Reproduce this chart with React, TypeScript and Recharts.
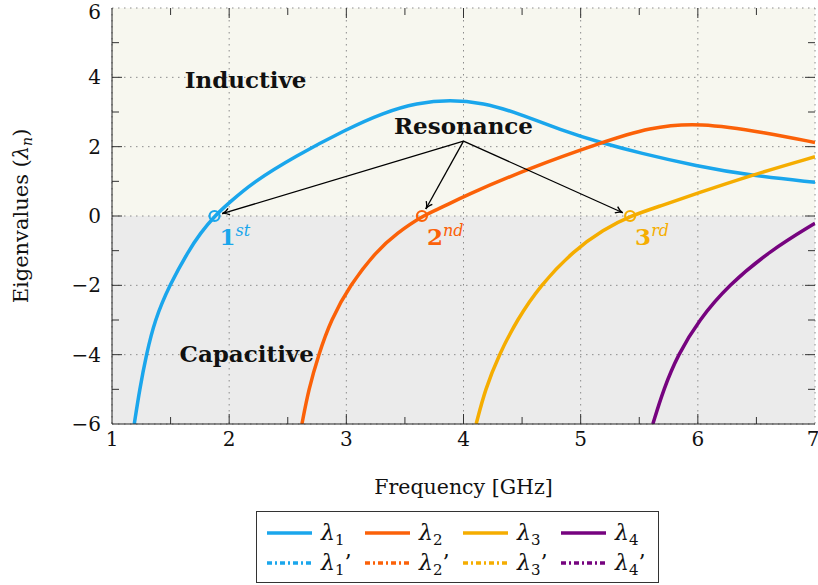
import React from "react";
import {
  CartesianGrid,
  Line,
  LineChart,
  ReferenceArea,
  ReferenceDot,
  ReferenceLine,
  XAxis,
  YAxis,
} from "recharts";

const FONT = "'DejaVu Serif', serif";

const BLUE = "#1aa6ec";
const ORANGE = "#fb6108";
const YELLOW = "#f5ad00";
const PURPLE = "#76037f";

// eigenvalue curves, frequency in GHz
const freq1 = [1.19, 1.236, 1.293, 1.365, 1.49, 1.654, 1.753, 1.875, 2.0, 2.197, 2.567, 3.0, 3.317, 3.6, 3.886, 4.17, 4.456, 4.88, 5.17, 5.5, 5.99, 6.45, 7.0];
const lambda1 = [-6, -5, -4, -3, -2, -1, -0.5, 0, 0.38, 0.96, 1.73, 2.5, 2.98, 3.26, 3.36, 3.26, 2.98, 2.42, 2.12, 1.82, 1.44, 1.17, 0.97];

const freq2 = [2.621, 2.678, 2.763, 2.868, 3.03, 3.26, 3.43, 3.645, 3.82, 4.0, 4.57, 5.17, 5.59, 6.01, 6.59, 7.0];
const lambda2 = [-6, -5, -4, -3, -2, -1, -0.5, 0, 0.25, 0.57, 1.39, 2.11, 2.56, 2.7, 2.4, 2.12];

const freq3 = [4.108, 4.185, 4.303, 4.456, 4.655, 4.94, 5.195, 5.422, 5.7, 5.99, 6.45, 7.0];
const lambda3 = [-6, -5, -4, -3, -2, -1, -0.39, 0, 0.31, 0.65, 1.17, 1.71];

const freq4 = [5.616, 5.707, 5.83, 6.01, 6.26, 6.617, 7.0];
const lambda4 = [-6, -5, -4, -3, -2, -1, -0.21];

const xTicks = [1, 2, 3, 4, 5, 6, 7];
const yTicks = [-6, -4, -2, 0, 2, 4, 6];
const xMinorTicks = [1.5, 2.5, 3.5, 4.5, 5.5, 6.5];
const yMinorTicks = [-5, -3, -1, 1, 3, 5];

// zero crossings
const resonanceFreqs = [1.875, 3.645, 5.422];
const resonanceNames = ["1", "2", "3"];
const resonanceSups = ["st", "nd", "rd"];
const resonanceColors = [BLUE, ORANGE, YELLOW];

const regionNames = ["Inductive", "Capacitive"];
const regionFreqs = [2.14, 2.15];
const regionVals = [3.7, -4.22];

const arrowOrigin = { f: 4.0, v: 2.16 };

const zip = (f: number[], v: number[]) => f.map((x, i) => ({ f: x, v: v[i] }));

const series = [
  { key: "l1", sub: "1", color: BLUE, data: zip(freq1, lambda1) },
  { key: "l2", sub: "2", color: ORANGE, data: zip(freq2, lambda2) },
  { key: "l3", sub: "3", color: YELLOW, data: zip(freq3, lambda3) },
  { key: "l4", sub: "4", color: PURPLE, data: zip(freq4, lambda4) },
];

const MAJOR = 10;
const MINOR = 7;

// inward ticks at both ends of a full-span reference line
const vTick = (len: number) => (p: any) => {
  const top = Math.min(p.y1, p.y2);
  const bot = Math.max(p.y1, p.y2);
  return (
    <g>
      <line x1={p.x1} x2={p.x1} y1={top} y2={top + len} stroke="#333" strokeWidth={1} />
      <line x1={p.x1} x2={p.x1} y1={bot} y2={bot - len} stroke="#333" strokeWidth={1} />
    </g>
  );
};

const hTick = (len: number) => (p: any) => {
  const left = Math.min(p.x1, p.x2);
  const right = Math.max(p.x1, p.x2);
  return (
    <g>
      <line x1={left} x2={left + len} y1={p.y1} y2={p.y1} stroke="#333" strokeWidth={1} />
      <line x1={right} x2={right - len} y1={p.y1} y2={p.y1} stroke="#333" strokeWidth={1} />
    </g>
  );
};

// arrow from the "Resonance" note, stopping short of the marker
const arrowShape = (p: any) => {
  const dx = p.x2 - p.x1;
  const dy = p.y2 - p.y1;
  const len = Math.hypot(dx, dy);
  const ux = dx / len;
  const uy = dy / len;
  const ex = p.x2 - ux * 8;
  const ey = p.y2 - uy * 8;
  const h = 8;
  const a = 0.45;
  const c = Math.cos(a);
  const s = Math.sin(a);
  const lx = ex - h * (ux * c - uy * s);
  const ly = ey - h * (uy * c + ux * s);
  const rx = ex - h * (ux * c + uy * s);
  const ry = ey - h * (uy * c - ux * s);
  return (
    <g>
      <line x1={p.x1} y1={p.y1} x2={ex} y2={ey} stroke="#000" strokeWidth={1.3} />
      <path
        d={`M${lx},${ly} Q${ex - ux * 3},${ey - uy * 3} ${ex},${ey} Q${ex - ux * 3},${ey - uy * 3} ${rx},${ry}`}
        fill="none"
        stroke="#000"
        strokeWidth={1.3}
      />
    </g>
  );
};

const resonanceShape = (i: number) => (p: any) => (
  <g>
    <circle cx={p.cx} cy={p.cy} r={5} fill="none" stroke={resonanceColors[i]} strokeWidth={2.2} />
    <text x={p.cx + 5} y={p.cy + 29} fill={resonanceColors[i]} fontFamily={FONT}>
      <tspan fontSize={23} fontWeight="bold">{resonanceNames[i]}</tspan>
      <tspan fontSize={16} fontStyle="italic" dy={-9}>{resonanceSups[i]}</tspan>
    </text>
  </g>
);

const noteShape = (text: string, dy: number) => (p: any) => (
  <text x={p.cx} y={p.cy + dy} textAnchor="middle" fontFamily={FONT} fontWeight="bold" fontSize={23} fill="#111">
    {text}
  </text>
);

const yLabel = ({ viewBox }: any) => (
  <text
    x={viewBox.x - 34}
    y={viewBox.y + viewBox.height / 2}
    transform={`rotate(-90 ${viewBox.x - 34} ${viewBox.y + viewBox.height / 2})`}
    textAnchor="middle"
    fontFamily={FONT}
    fontSize={21}
    fill="#111"
  >
    <tspan>Eigenvalues (</tspan>
    <tspan fontStyle="italic">λ</tspan>
    <tspan fontStyle="italic" fontSize={14} dy={4}>n</tspan>
    <tspan dy={-4}>)</tspan>
  </text>
);

const xLabel = ({ viewBox }: any) => (
  <text x={viewBox.x + viewBox.width / 2} y={494} textAnchor="middle" fontFamily={FONT} fontSize={20.5} fill="#111">
    Frequency [GHz]
  </text>
);

function LegendBox() {
  return (
    <div
      style={{
        position: "absolute",
        left: 256,
        top: 511,
        width: 403,
        height: 72,
        boxSizing: "border-box",
        border: "1px solid #333",
        background: "#fff",
      }}
    >
      <svg width={401} height={70}>
        {series.map((s, i) =>
          [0, 1].map((row) => {
            const x = 10 + i * 98;
            const y = 21 + row * 30;
            return (
              <g key={`${s.key}-${row}`}>
                <line
                  x1={x}
                  x2={x + 45}
                  y1={y}
                  y2={y}
                  stroke={s.color}
                  strokeWidth={3.5}
                  strokeDasharray={row ? "5 3 2 3" : undefined}
                />
                <text x={x + 54} y={y + 7} fontFamily={FONT} fontSize={22} fill="#111">
                  <tspan fontStyle="italic">λ</tspan>
                  <tspan fontSize={15} dy={5}>{s.sub}</tspan>
                  {row ? <tspan dy={-5}>’</tspan> : null}
                </text>
              </g>
            );
          })
        )}
      </svg>
    </div>
  );
}

export default function App() {
  return (
    <div style={{ position: "absolute", left: 0, top: 0, width: 818, height: 585, background: "#fff" }}>
      <LineChart width={818} height={585} margin={{ top: 8, right: 3, bottom: 101, left: 62 }}>
        <ReferenceArea x1={1} x2={7} y1={0} y2={6} fill="#f7f7ef" fillOpacity={1} stroke="none" zIndex={-200} />
        <ReferenceArea x1={1} x2={7} y1={-6} y2={0} fill="#ebebeb" fillOpacity={1} stroke="none" zIndex={-200} />
        <CartesianGrid stroke="#8c8c8c" strokeDasharray="1.5 4.5" />
        <XAxis
          dataKey="f"
          type="number"
          domain={[1, 7]}
          ticks={xTicks}
          allowDataOverflow
          height={60}
          tickSize={0}
          tickMargin={8}
          tickLine={false}
          axisLine={{ stroke: "#222" }}
          tick={{ fontFamily: FONT, fontSize: 20, fill: "#111" }}
          label={{ content: xLabel }}
        />
        <XAxis xAxisId="top" orientation="top" type="number" domain={[1, 7]} height={0} tick={false} tickLine={false} axisLine={{ stroke: "#222" }} />
        <YAxis
          type="number"
          domain={[-6, 6]}
          ticks={yTicks}
          allowDataOverflow
          width={50}
          tickSize={0}
          tickMargin={11}
          tickLine={false}
          axisLine={{ stroke: "#222" }}
          tick={{ fontFamily: FONT, fontSize: 20, fill: "#111" }}
          tickFormatter={(v: number) => (v < 0 ? `−${-v}` : `${v}`)}
          label={{ content: yLabel }}
        />
        <YAxis yAxisId="right" orientation="right" type="number" domain={[-6, 6]} width={0} tick={false} tickLine={false} axisLine={{ stroke: "#222" }} />

        {xTicks.slice(1, -1).map((t) => (
          <ReferenceLine key={`xt${t}`} x={t} shape={vTick(MAJOR)} />
        ))}
        {xMinorTicks.map((t) => (
          <ReferenceLine key={`xm${t}`} x={t} shape={vTick(MINOR)} />
        ))}
        {yTicks.slice(1, -1).map((t) => (
          <ReferenceLine key={`yt${t}`} y={t} shape={hTick(MAJOR)} />
        ))}
        {yMinorTicks.map((t) => (
          <ReferenceLine key={`ym${t}`} y={t} shape={hTick(MINOR)} />
        ))}

        {series.map((s) => (
          <Line
            key={s.key}
            data={s.data}
            dataKey="v"
            type="basis"
            stroke={s.color}
            strokeWidth={3.5}
            dot={false}
            activeDot={false}
            isAnimationActive={false}
          />
        ))}

        {resonanceFreqs.map((f) => (
          <ReferenceLine
            key={`ar${f}`}
            segment={[
              { x: arrowOrigin.f, y: arrowOrigin.v },
              { x: f, y: 0 },
            ]}
            shape={arrowShape}
            zIndex={1500}
          />
        ))}
        {resonanceFreqs.map((f, i) => (
          <ReferenceDot key={`rd${f}`} x={f} y={0} r={5} shape={resonanceShape(i)} zIndex={1500} />
        ))}
        <ReferenceDot x={arrowOrigin.f} y={arrowOrigin.v} r={1} shape={noteShape("Resonance", -7)} zIndex={1500} />
        {regionNames.map((n, i) => (
          <ReferenceDot key={n} x={regionFreqs[i]} y={regionVals[i]} r={1} shape={noteShape(n, 0)} zIndex={1500} />
        ))}
      </LineChart>
      <LegendBox />
    </div>
  );
}
